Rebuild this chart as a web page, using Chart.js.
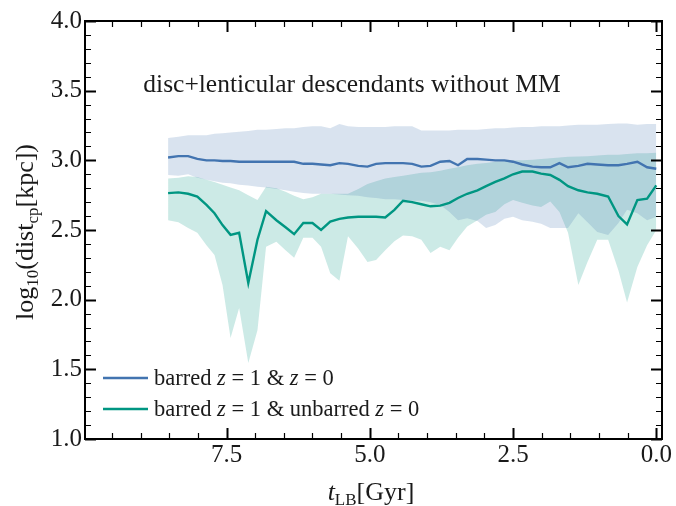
<!DOCTYPE html>
<html>
<head>
<meta charset="utf-8">
<script src="https://cdn.jsdelivr.net/npm/chart.js@4.4.1/dist/chart.umd.min.js"></script>
<style>
  html, body { margin: 0; padding: 0; background: #fff; }
  #wrap { width: 676px; height: 506px; }
</style>
</head>
<body>
<div id="wrap"><canvas id="chart" width="676" height="506"></canvas></div>
<script>
// look-back time of each snapshot [Gyr]
const tLB = [8.52, 8.34, 8.17, 8.01, 7.85, 7.71, 7.57, 7.43, 7.28, 7.12,
             6.96, 6.81, 6.63, 6.47, 6.32, 6.16, 6.00, 5.85, 5.69, 5.53,
             5.38, 5.20, 5.04, 4.89, 4.73, 4.57, 4.42, 4.26, 4.10, 3.94,
             3.77, 3.61, 3.46, 3.30, 3.12, 2.97, 2.81, 2.65, 2.50, 2.34,
             2.16, 2.01, 1.85, 1.69, 1.54, 1.36, 1.20, 1.03, 0.84, 0.66,
             0.51, 0.33, 0.16, 0.00];

// barred z=1 & z=0
const blueMean = [3.02, 3.03, 3.03, 3.01, 3.00, 3.00, 2.995, 2.995, 2.99, 2.99,
                  2.99, 2.99, 2.99, 2.99, 2.99, 2.975, 2.975, 2.97, 2.965, 2.98,
                  2.975, 2.96, 2.955, 2.975, 2.98, 2.98, 2.98, 2.975, 2.955, 2.96,
                  2.99, 2.995, 2.965, 3.01, 3.01, 3.005, 3.00, 3.00, 2.99, 2.97,
                  2.955, 2.95, 2.95, 2.98, 2.95, 2.96, 2.975, 2.97, 2.965, 2.965,
                  2.975, 2.99, 2.95, 2.94];
const blueHigh = [3.16, 3.17, 3.18, 3.18, 3.18, 3.19, 3.195, 3.20, 3.205, 3.21,
                  3.22, 3.22, 3.225, 3.23, 3.23, 3.24, 3.245, 3.245, 3.23, 3.26,
                  3.245, 3.24, 3.24, 3.24, 3.24, 3.245, 3.245, 3.245, 3.215, 3.215,
                  3.215, 3.215, 3.22, 3.22, 3.22, 3.225, 3.23, 3.23, 3.235, 3.24,
                  3.24, 3.245, 3.245, 3.245, 3.25, 3.255, 3.255, 3.255, 3.26, 3.265,
                  3.265, 3.255, 3.26, 3.26];
const blueLow = [2.895, 2.89, 2.90, 2.875, 2.86, 2.85, 2.84, 2.835, 2.825, 2.82,
                 2.81, 2.805, 2.795, 2.785, 2.775, 2.765, 2.76, 2.76, 2.76, 2.755,
                 2.75, 2.745, 2.735, 2.73, 2.72, 2.72, 2.715, 2.71, 2.71, 2.70,
                 2.68, 2.63, 2.57, 2.585, 2.565, 2.515, 2.535, 2.58, 2.595, 2.57,
                 2.56, 2.545, 2.515, 2.515, 2.515, 2.62, 2.555, 2.485, 2.465, 2.55,
                 2.645, 2.62, 2.57, 2.595];

// barred z=1 & unbarred z=0
const greenMean = [2.765, 2.77, 2.76, 2.74, 2.68, 2.62, 2.535, 2.465, 2.48, 2.12,
                   2.43, 2.635, 2.57, 2.52, 2.47, 2.55, 2.55, 2.50, 2.56, 2.58,
                   2.59, 2.595, 2.595, 2.595, 2.59, 2.645, 2.71, 2.70, 2.685, 2.67,
                   2.675, 2.695, 2.73, 2.76, 2.785, 2.815, 2.845, 2.87, 2.90, 2.92,
                   2.92, 2.905, 2.895, 2.86, 2.815, 2.785, 2.77, 2.76, 2.74, 2.60,
                   2.54, 2.715, 2.725, 2.82];
const greenHigh = [2.87, 2.875, 2.885, 2.88, 2.86, 2.845, 2.825, 2.805, 2.785, 2.75,
                   2.715, 2.81, 2.80, 2.775, 2.745, 2.72, 2.735, 2.76, 2.76, 2.76,
                   2.76, 2.795, 2.83, 2.85, 2.87, 2.88, 2.89, 2.90, 2.91, 2.915,
                   2.925, 2.94, 2.95, 2.965, 2.975, 2.98, 2.99, 2.995, 3.00, 3.00,
                   3.005, 3.01, 3.015, 3.02, 3.025, 3.027, 3.03, 3.035, 3.04, 3.04,
                   3.045, 3.05, 3.05, 3.055];
const greenLow = [2.57, 2.555, 2.515, 2.48, 2.39, 2.32, 2.105, 1.725, 1.94, 1.545,
                  1.78, 2.38, 2.415, 2.355, 2.30, 2.445, 2.445, 2.38, 2.19, 2.135,
                  2.455, 2.365, 2.27, 2.285, 2.355, 2.42, 2.46, 2.455, 2.43, 2.335,
                  2.38, 2.355, 2.445, 2.525, 2.57, 2.61, 2.63, 2.685, 2.715, 2.695,
                  2.675, 2.665, 2.705, 2.63, 2.48, 2.105, 2.27, 2.43, 2.43, 2.21,
                  1.98, 2.235, 2.39, 2.50];

const xTicks = [7.5, 5.0, 2.5, 0.0];
const yTicks = [1.0, 1.5, 2.0, 2.5, 3.0, 3.5, 4.0];
const xMinor = [0.5, 1.0, 1.5, 2.0, 3.0, 3.5, 4.0, 4.5, 5.5, 6.0, 6.5, 7.0, 8.0, 8.5, 9.0, 9.5];
const yMinor = [];
for (let v = 10; v <= 40; v++) if (v % 5 !== 0) yMinor.push(v / 10);

const annotation = 'disc+lenticular descendants without MM';
// legend entries as [text, italic] pieces
const legendBlue = [['barred ', false], ['z', true], [' = 1 & ', false], ['z', true], [' = 0', false]];
const legendGreen = [['barred ', false], ['z', true], [' = 1 & unbarred ', false], ['z', true], [' = 0', false]];

const BLUE = 'rgb(66, 116, 176)';
const BLUE_BAND = 'rgba(66, 116, 176, 0.2)';
const GREEN = 'rgb(0, 150, 130)';
const GREEN_BAND = 'rgba(0, 150, 130, 0.2)';
const SERIF = '"Liberation Serif", "DejaVu Serif", serif';
const INK = '#1a1a1a';

const pts = ys => ys.map((y, i) => ({ x: tLB[i], y: y }));

// draw a run of pieces: [text, size, italic, dy]
function drawRun(ctx, pieces, x, y) {
    let cx = x;
    pieces.forEach(p => {
        ctx.font = (p[2] ? 'italic ' : '') + p[1] + 'px ' + SERIF;
        ctx.fillText(p[0], cx, y + (p[3] || 0));
        cx += ctx.measureText(p[0]).width;
    });
}
function runWidth(ctx, pieces) {
    let w = 0;
    pieces.forEach(p => {
        ctx.font = (p[2] ? 'italic ' : '') + p[1] + 'px ' + SERIF;
        w += ctx.measureText(p[0]).width;
    });
    return w;
}

const decorations = {
    id: 'decorations',
    afterDraw(chart) {
        const { ctx, chartArea: a, scales: { x, y } } = chart;
        ctx.save();
        ctx.strokeStyle = '#000';
        ctx.fillStyle = INK;

        // inward ticks on all four sides
        const xt = (vals, len, w) => {
            ctx.lineWidth = w;
            vals.forEach(v => {
                const px = Math.round(x.getPixelForValue(v)) + 0.5;
                ctx.beginPath();
                ctx.moveTo(px, a.bottom); ctx.lineTo(px, a.bottom - len);
                ctx.moveTo(px, a.top); ctx.lineTo(px, a.top + len);
                ctx.stroke();
            });
        };
        const yt = (vals, len, w) => {
            ctx.lineWidth = w;
            vals.forEach(v => {
                const py = Math.round(y.getPixelForValue(v)) + 0.5;
                ctx.beginPath();
                ctx.moveTo(a.left, py); ctx.lineTo(a.left + len, py);
                ctx.moveTo(a.right, py); ctx.lineTo(a.right - len, py);
                ctx.stroke();
            });
        };
        xt(xMinor, 6, 1.2);
        xt(xTicks, 11, 2);
        yt(yMinor, 6, 1.2);
        yt(yTicks, 11, 2);

        // frame
        ctx.lineWidth = 2;
        ctx.strokeRect(a.left, a.top, a.right - a.left, a.bottom - a.top);

        // annotation
        ctx.textBaseline = 'alphabetic';
        ctx.textAlign = 'left';
        ctx.font = '25.5px ' + SERIF;
        const aw = ctx.measureText(annotation).width;
        ctx.fillText(annotation, 352 - aw / 2, 92);

        // legend
        ctx.lineWidth = 2.5;
        [[legendBlue, BLUE, 378], [legendGreen, GREEN, 409]].forEach(([pieces, col, ly]) => {
            ctx.strokeStyle = col;
            ctx.beginPath();
            ctx.moveTo(103, ly); ctx.lineTo(148, ly);
            ctx.stroke();
            ctx.fillStyle = INK;
            drawRun(ctx, pieces.map(p => [p[0], 22.5, p[1], 0]), 154, ly + 7);
        });

        // x title
        const xTitle = [['t', 26, true, 0], ['LB', 17, false, 5], ['[Gyr]', 26, false, 0]];
        drawRun(ctx, xTitle, 371 - runWidth(ctx, xTitle) / 2, 500);

        // y title
        const yTitle = [['log', 26, false, 0], ['10', 17, false, 5], ['(dist', 26, false, 0],
                        ['cp', 17, false, 5], ['[kpc])', 26, false, 0]];
        ctx.translate(33, 232);
        ctx.rotate(-Math.PI / 2);
        drawRun(ctx, yTitle, -runWidth(ctx, yTitle) / 2, 0);
        ctx.restore();
    }
};

new Chart(document.getElementById('chart'), {
    type: 'line',
    data: {
        datasets: [
            { label: 'barred z=1 & z=0', data: pts(blueMean), borderColor: BLUE, borderWidth: 2.4, pointRadius: 0, fill: false },
            { label: 'barred z=1 & unbarred z=0', data: pts(greenMean), borderColor: GREEN, borderWidth: 2.4, pointRadius: 0, fill: false },
            { label: 'blue high', data: pts(blueHigh), borderWidth: 0, borderColor: 'rgba(0,0,0,0)', backgroundColor: BLUE_BAND, pointRadius: 0, fill: '+1' },
            { label: 'blue low', data: pts(blueLow), borderWidth: 0, borderColor: 'rgba(0,0,0,0)', pointRadius: 0, fill: false },
            { label: 'green high', data: pts(greenHigh), borderWidth: 0, borderColor: 'rgba(0,0,0,0)', backgroundColor: GREEN_BAND, pointRadius: 0, fill: '+1' },
            { label: 'green low', data: pts(greenLow), borderWidth: 0, borderColor: 'rgba(0,0,0,0)', pointRadius: 0, fill: false }
        ]
    },
    options: {
        responsive: false,
        animation: false,
        devicePixelRatio: 1,
        layout: { padding: { top: 21, right: 14, left: 0, bottom: 0 } },
        plugins: {
            legend: { display: false },
            tooltip: { enabled: false }
        },
        scales: {
            x: {
                type: 'linear',
                reverse: true,
                min: -0.1,
                max: 9.97,
                afterBuildTicks: s => { s.ticks = xTicks.map(v => ({ value: v })); },
                afterFit: s => { s.height = 67; },
                ticks: {
                    color: INK,
                    padding: 1,
                    maxRotation: 0,
                    font: { family: SERIF, size: 25 },
                    callback: v => v.toFixed(1)
                },
                grid: { display: false, drawTicks: false },
                border: { display: false }
            },
            y: {
                min: 1,
                max: 4,
                afterBuildTicks: s => { s.ticks = yTicks.map(v => ({ value: v })); },
                afterFit: s => { s.width = 85; },
                ticks: {
                    color: INK,
                    padding: 3,
                    font: { family: SERIF, size: 25 },
                    callback: v => v.toFixed(1)
                },
                grid: { display: false, drawTicks: false },
                border: { display: false }
            }
        }
    },
    plugins: [decorations]
});
</script>
</body>
</html>
